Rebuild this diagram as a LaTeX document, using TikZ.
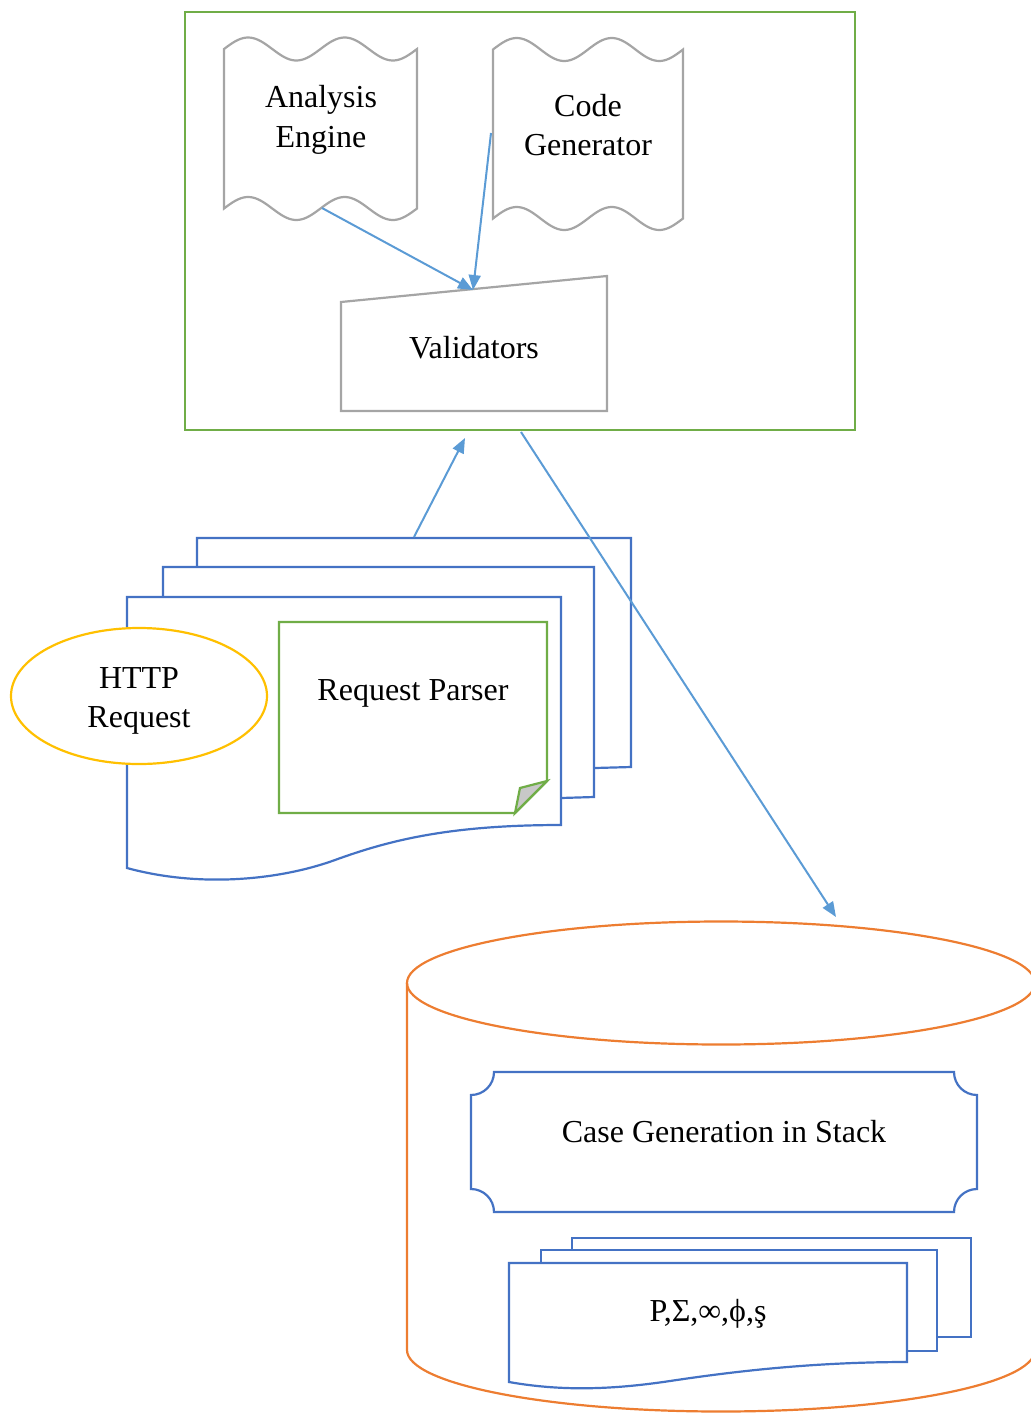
\documentclass[tikz,border=0pt]{standalone}
\usepackage{fontspec}
\setmainfont{Liberation Serif}
\usetikzlibrary{arrows.meta}
\definecolor{frameGreen}{HTML}{70AD47}
\definecolor{shapeGray}{HTML}{A5A5A5}
\definecolor{docBlue}{HTML}{4472C4}
\definecolor{flowBlue}{HTML}{5B9BD5}
\definecolor{dbOrange}{HTML}{ED7D31}
\definecolor{ovalGold}{HTML}{FFC000}
\definecolor{foldGray}{HTML}{C8C8C8}
\tikzset{
  shapeline/.style={line width=2.2pt, line join=miter},
  tapebox/.style={shapeline, draw=shapeGray, fill=white},
  docpage/.style={shapeline, draw=docBlue, fill=white},
  flow/.style={draw=flowBlue, line width=2pt, -{Triangle[length=15pt,width=12pt]}},
  label/.style={align=center, inner sep=0pt, font=\fontsize{32}{39.5}\selectfont},
}
\begin{document}
\begin{tikzpicture}[x=1pt, y=-1pt]
\useasboundingbox (0,0) rectangle (1031,1414);

% ---- engine block ----
\draw[shapeline, draw=frameGreen] (185,12) rectangle (855,430);

% punched-tape shapes
\draw[tapebox]
  plot[domain=224:417, samples=80, smooth] (\x, {49 - 11.5*sin((3.7306)*(\x-224))})
  -- plot[domain=417:224, samples=80, smooth] (\x, {208.5 - 11.5*sin((3.7306)*(\x-224))})
  -- cycle;
\draw[tapebox]
  plot[domain=493:683, samples=80, smooth] (\x, {49.5 - 11.5*sin((3.7895)*(\x-493))})
  -- plot[domain=683:493, samples=80, smooth] (\x, {218.5 - 11.5*sin((3.7895)*(\x-493))})
  -- cycle;
\node[label] (ae) at (321,120) {Analysis\\Engine};
\node[label] (cg) at (588,125) {Code\\Generator};

% manual-input shape
\draw[tapebox] (341,302) -- (607,276) -- (607,411) -- (341,411) -- cycle;
\node[label] (val) at (474,348) {Validators};

\coordinate (aeOut) at (322,208);
\coordinate (cgOut) at (491,133);
\coordinate (valIn) at (473,290);
\draw[flow] (aeOut) -- (valIn);
\draw[flow] (cgOut) -- (valIn);

% ---- request pages ----
\draw[docpage] (197,538) -- (631,538) -- (631,767) -- (595,768) -- (197,768) -- cycle;
\draw[docpage] (163,567) -- (594,567) -- (594,797) -- (561,798) -- (163,798) -- cycle;
\draw[docpage] (127,597) -- (561,597) -- (561,825)
  .. controls (450,825) and (390,840) .. (335,860)
  .. controls (280,880) and (200,888) .. (127,868) -- cycle;

\draw[shapeline, draw=ovalGold, fill=white] (139,696) ellipse [x radius=128pt, y radius=68pt];
\node[label] (http) at (139,701) {HTTP\\Request};

% note with folded corner
\draw[shapeline, draw=frameGreen, fill=white]
  (279,622) -- (547,622) -- (547,781) -- (515,813) -- (279,813) -- cycle;
\draw[shapeline, draw=frameGreen, fill=foldGray] (547,781) -- (520,788) -- (515,813) -- cycle;
\node[label] (rp) at (413,693) {Request Parser};

\coordinate (pagesTop) at (414,537);
\coordinate (engineBelow) at (465,438);
\coordinate (engineOut) at (521,432);
\coordinate (storeTop) at (836,917);
\draw[flow] (pagesTop) -- (engineBelow);
\draw[flow] (engineOut) -- (storeTop);

% ---- storage cylinder ----
\draw[shapeline, draw=dbOrange, fill=white]
  (407,983) -- (407,1350) arc[start angle=180, end angle=360, x radius=314pt, y radius=61.5pt]
  -- (1035,983);
\draw[shapeline, draw=dbOrange] (721,983) ellipse [x radius=314pt, y radius=61.5pt];

% plaque
\draw[docpage]
  (494,1072) -- (954,1072) arc[start angle=180, end angle=270, radius=23pt]
  -- (977,1189) arc[start angle=90, end angle=180, radius=23pt]
  -- (494,1212) arc[start angle=0, end angle=90, radius=23pt]
  -- (471,1095) arc[start angle=-90, end angle=0, radius=23pt] -- cycle;
\node[label] (cgs) at (724,1132) {Case Generation in Stack};

% stacked symbol pages
\draw[docpage] (572,1238) -- (971,1238) -- (971,1337) -- (572,1337) -- cycle;
\draw[docpage] (541,1250) -- (937,1250) -- (937,1351) -- (541,1351) -- cycle;
\draw[docpage] (509,1263) -- (907,1263) -- (907,1362)
  .. controls (810,1362) and (730,1372) .. (670,1381)
  .. controls (610,1390) and (560,1391) .. (509,1382) -- cycle;
\node[label] (sym) at (708,1314) {P,Σ,∞,ϕ,ş};
\end{tikzpicture}
\end{document}
